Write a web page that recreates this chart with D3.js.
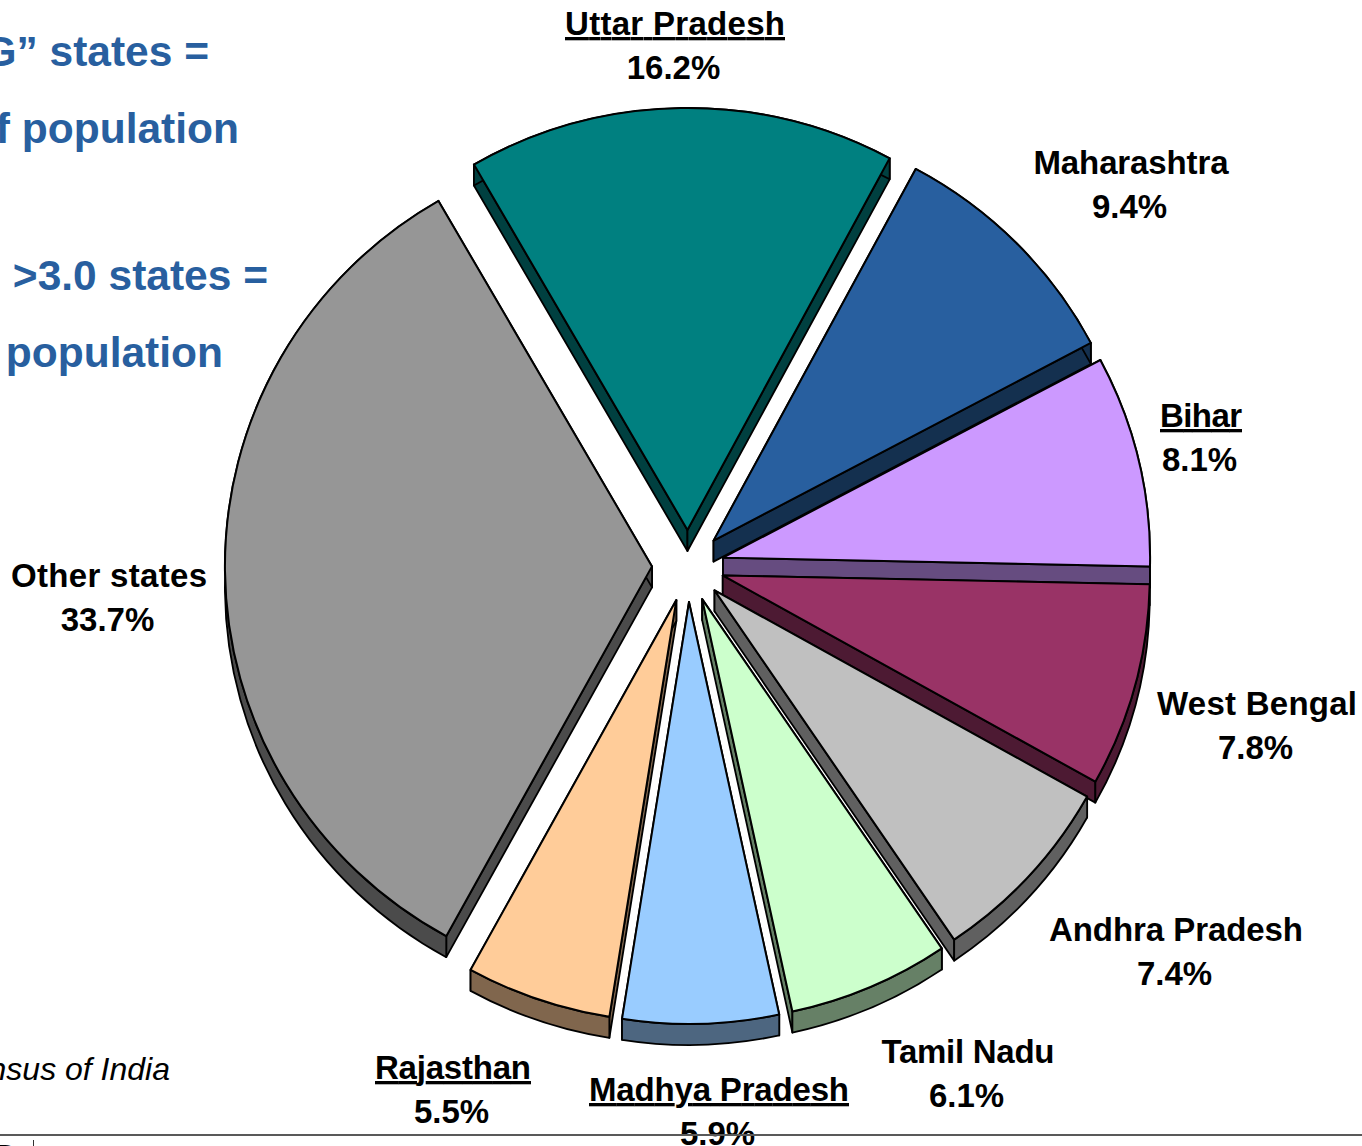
<!DOCTYPE html>
<html>
<head>
<meta charset="utf-8">
<script src="https://cdnjs.cloudflare.com/ajax/libs/d3/7.8.5/d3.min.js"></script>
<style>
    html, body { margin: 0; padding: 0; background: #fff; overflow: hidden; }
    text { font-family: "Liberation Sans", Arial, sans-serif; }
</style>
</head>
<body>
<div id="chart"></div>
<script>
// values
const states = ['Uttar Pradesh', 'Maharashtra', 'Bihar', 'West Bengal', 'Andhra Pradesh', 'Tamil Nadu', 'Madhya Pradesh', 'Rajasthan', 'Other states']
const shares = [16.2, 9.4, 8.1, 7.8, 7.4, 6.1, 5.9, 5.5, 33.7]
// states in the "EAG" group get an underlined name
const underlined = ['Uttar Pradesh', 'Bihar', 'Madhya Pradesh', 'Rajasthan']

const topColors = ['#008080', '#285f9f', '#cc99ff', '#993366', '#c0c0c0', '#ccffcc', '#99ccff', '#ffcc99', '#969696']
const sideColors = ['#004040', '#14304f', '#664c80', '#4d1a33', '#606060', '#668066', '#4d6680', '#80664d', '#4b4b4b']

// label centres and name widths
const labelX = [675, 1131, 1201, 1257, 1176, 968, 719, 453, 109]
const labelY = [35, 174, 427, 715, 941, 1063, 1101, 1079, 587]
const nameWidths = [220, 195, 82, 200, 254, 173, 260, 156, 196]

const width = 1362
const height = 1146
const cx = 688
const cy = 566
const radius = 422
const stretchX = 1.012
const explode = 36
const depth = 21
const startAngle = -30 * Math.PI / 180

const svg = d3.select('#chart')
    .append('svg')
    .attr('width', width)
    .attr('height', height)
    .style('display', 'block')

const pie = d3.pie().sort(null).startAngle(startAngle).endAngle(startAngle + 2 * Math.PI)
const slices = pie(shares).map((d, i) => ({ ...d, i, mid: (d.startAngle + d.endAngle) / 2 }))

const arc = d3.arc().innerRadius(0).outerRadius(radius)

// back to front so the nearer slices cover the farther ones
const order = slices.slice().sort((a, b) => Math.cos(b.mid) - Math.cos(a.mid))

function rimPath(d) {
    const p = d3.path()
    const a0 = d.startAngle - Math.PI / 2
    const a1 = d.endAngle - Math.PI / 2
    p.moveTo(radius * Math.cos(a0), radius * Math.sin(a0))
    p.arc(0, 0, radius, a0, a1)
    p.lineTo(radius * Math.cos(a1), radius * Math.sin(a1) + depth)
    p.arc(0, depth, radius, a1, a0, true)
    p.closePath()
    return p.toString()
}

function wallPath(angle) {
    const a = angle - Math.PI / 2
    const x = radius * Math.cos(a)
    const y = radius * Math.sin(a)
    return d3.line()([[0, 0], [x, y], [x, y + depth], [0, depth]]) + 'Z'
}

const groups = svg.selectAll('.slice')
    .data(order)
    .join('g')
    .attr('class', 'slice')
    .attr('transform', d => `translate(${cx + explode * Math.sin(d.mid)},${cy - explode * Math.cos(d.mid)}) scale(${stretchX},1)`)
    .attr('stroke', '#000')
    .attr('stroke-linejoin', 'round')

groups.append('path')
    .attr('d', d => wallPath(d.startAngle))
    .attr('fill', d => sideColors[d.i])
    .attr('stroke-width', 1.8)

groups.append('path')
    .attr('d', d => wallPath(d.endAngle))
    .attr('fill', d => sideColors[d.i])
    .attr('stroke-width', 1.8)

groups.append('path')
    .attr('d', rimPath)
    .attr('fill', d => sideColors[d.i])
    .attr('stroke-width', 1.8)

groups.append('path')
    .attr('d', arc)
    .attr('fill', d => topColors[d.i])
    .attr('stroke-width', 2)

// data labels
const labels = svg.selectAll('.label')
    .data(slices)
    .join('g')
    .attr('class', 'label')
    .attr('text-anchor', 'middle')
    .attr('font-weight', 'bold')
    .attr('font-size', 33)
    .attr('fill', '#000')

labels.append('text')
    .attr('x', d => labelX[d.i])
    .attr('y', d => labelY[d.i])
    .attr('textLength', d => nameWidths[d.i])
    .attr('lengthAdjust', 'spacing')
    .attr('text-decoration', d => underlined.includes(states[d.i]) ? 'underline' : null)
    .text(d => states[d.i])

labels.append('text')
    .attr('x', d => labelX[d.i] - 1.5)
    .attr('y', d => labelY[d.i] + 44)
    .text(d => shares[d.i].toFixed(1) + '%')

// side notes, cut off by the left edge as in the slide
const notes = ['“EAG” states =', 'of population', '>3.0 states =', 'population']
const noteRight = [209, 239, 268, 223]
const noteY = [66, 143, 290, 367]

svg.selectAll('.note')
    .data(notes)
    .join('text')
    .attr('class', 'note')
    .attr('x', (d, i) => noteRight[i])
    .attr('y', (d, i) => noteY[i])
    .attr('text-anchor', 'end')
    .attr('font-weight', 'bold')
    .attr('font-size', 42.5)
    .attr('fill', '#285f9f')
    .text(d => d)

svg.append('text')
    .attr('x', 170)
    .attr('y', 1080)
    .attr('text-anchor', 'end')
    .attr('font-style', 'italic')
    .attr('font-size', 32)
    .attr('fill', '#000')
    .text('Source: Census of India')

// footer rule and what is left of the slide footer
svg.append('line')
    .attr('x1', 0)
    .attr('x2', width)
    .attr('y1', 1135)
    .attr('y2', 1135)
    .attr('stroke', '#595959')
    .attr('stroke-width', 2)

svg.append('line')
    .attr('x1', 33.5)
    .attr('x2', 33.5)
    .attr('y1', 1140)
    .attr('y2', height)
    .attr('stroke', '#333')
    .attr('stroke-width', 1)

svg.append('text')
    .attr('x', -6)
    .attr('y', 1168)
    .attr('font-weight', 'bold')
    .attr('font-size', 34)
    .attr('fill', '#000')
    .text('D')
</script>
</body>
</html>
